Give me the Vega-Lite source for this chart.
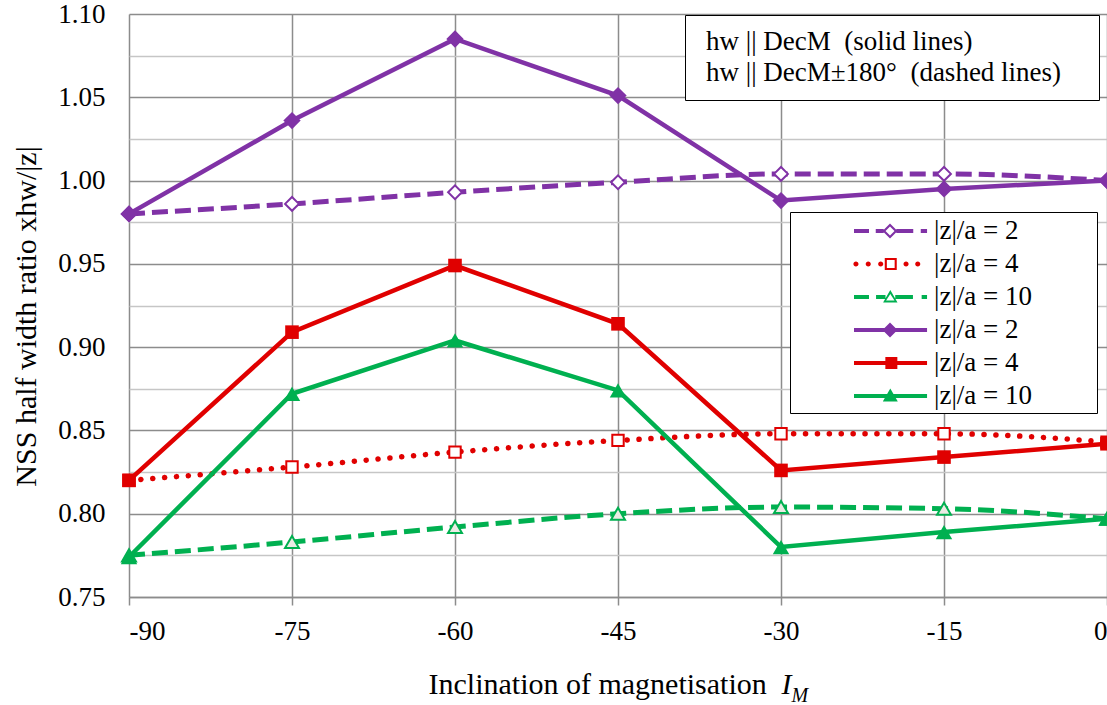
{
  "$schema": "https://vega.github.io/schema/vega-lite/v6.json",
  "width": 978,
  "height": 583,
  "autosize": {"type": "none"},
  "padding": {"left": 129, "top": 14, "right": 0, "bottom": 108},
  "background": "white",
  "config": {
    "view": {"stroke": null},
    "font": "Liberation Serif",
    "axis": {"labelFont": "Liberation Serif", "titleFont": "Liberation Serif", "labelFontSize": 27, "titleFontSize": 30,
      "labelColor": "black", "titleColor": "black", "titleFontWeight": "normal"},
    "legend": {"labelFont": "Liberation Serif", "labelFontSize": 27, "labelColor": "black"}
  },
  "resolve": {"axis": {"x": "independent", "y": "independent"}},
  "data": {"values": [
    {"x": -90, "y": 0.980, "series": "|z|/a = 2 (dashed)"},
    {"x": -75, "y": 0.986, "series": "|z|/a = 2 (dashed)"},
    {"x": -60, "y": 0.993, "series": "|z|/a = 2 (dashed)"},
    {"x": -45, "y": 0.999, "series": "|z|/a = 2 (dashed)"},
    {"x": -30, "y": 1.004, "series": "|z|/a = 2 (dashed)"},
    {"x": -15, "y": 1.004, "series": "|z|/a = 2 (dashed)"},
    {"x": 0, "y": 1.000, "series": "|z|/a = 2 (dashed)"},
    {"x": -90, "y": 0.820, "series": "|z|/a = 4 (dotted)"},
    {"x": -75, "y": 0.828, "series": "|z|/a = 4 (dotted)"},
    {"x": -60, "y": 0.837, "series": "|z|/a = 4 (dotted)"},
    {"x": -45, "y": 0.844, "series": "|z|/a = 4 (dotted)"},
    {"x": -30, "y": 0.848, "series": "|z|/a = 4 (dotted)"},
    {"x": -15, "y": 0.848, "series": "|z|/a = 4 (dotted)"},
    {"x": 0, "y": 0.843, "series": "|z|/a = 4 (dotted)"},
    {"x": -90, "y": 0.775, "series": "|z|/a = 10 (dashed)"},
    {"x": -75, "y": 0.783, "series": "|z|/a = 10 (dashed)"},
    {"x": -60, "y": 0.792, "series": "|z|/a = 10 (dashed)"},
    {"x": -45, "y": 0.800, "series": "|z|/a = 10 (dashed)"},
    {"x": -30, "y": 0.804, "series": "|z|/a = 10 (dashed)"},
    {"x": -15, "y": 0.803, "series": "|z|/a = 10 (dashed)"},
    {"x": 0, "y": 0.797, "series": "|z|/a = 10 (dashed)"},
    {"x": -90, "y": 0.980, "series": "|z|/a = 2 (solid)"},
    {"x": -75, "y": 1.036, "series": "|z|/a = 2 (solid)"},
    {"x": -60, "y": 1.085, "series": "|z|/a = 2 (solid)"},
    {"x": -45, "y": 1.051, "series": "|z|/a = 2 (solid)"},
    {"x": -30, "y": 0.988, "series": "|z|/a = 2 (solid)"},
    {"x": -15, "y": 0.995, "series": "|z|/a = 2 (solid)"},
    {"x": 0, "y": 1.000, "series": "|z|/a = 2 (solid)"},
    {"x": -90, "y": 0.820, "series": "|z|/a = 4 (solid)"},
    {"x": -75, "y": 0.909, "series": "|z|/a = 4 (solid)"},
    {"x": -60, "y": 0.949, "series": "|z|/a = 4 (solid)"},
    {"x": -45, "y": 0.914, "series": "|z|/a = 4 (solid)"},
    {"x": -30, "y": 0.826, "series": "|z|/a = 4 (solid)"},
    {"x": -15, "y": 0.834, "series": "|z|/a = 4 (solid)"},
    {"x": 0, "y": 0.842, "series": "|z|/a = 4 (solid)"},
    {"x": -90, "y": 0.774, "series": "|z|/a = 10 (solid)"},
    {"x": -75, "y": 0.872, "series": "|z|/a = 10 (solid)"},
    {"x": -60, "y": 0.904, "series": "|z|/a = 10 (solid)"},
    {"x": -45, "y": 0.874, "series": "|z|/a = 10 (solid)"},
    {"x": -30, "y": 0.780, "series": "|z|/a = 10 (solid)"},
    {"x": -15, "y": 0.789, "series": "|z|/a = 10 (solid)"},
    {"x": 0, "y": 0.797, "series": "|z|/a = 10 (solid)"}
  ]},
  "encoding": {
    "x": {"field": "x", "type": "quantitative", "scale": {"domain": [-90, 0], "nice": false, "zero": false}, "axis": null},
    "y": {"field": "y", "type": "quantitative", "scale": {"domain": [0.75, 1.10], "nice": false, "zero": false}, "axis": null}
  },
  "layer": [
    {
      "transform": [{"filter": {"field": "series", "equal": "|z|/a = 2 (dashed)"}}],
      "mark": {"type": "line", "interpolate": "monotone", "strokeWidth": 5, "strokeDash": [16, 7], "stroke": "#8032a6"},
      "encoding": {
        "x": {"field": "x", "type": "quantitative", "scale": {"domain": [-90, 0], "nice": false, "zero": false},
          "axis": {"orient": "bottom", "values": [-90, -75, -60, -45, -30, -15, 0], "labelExpr": "'' + datum.value",
            "labelFont": "Liberation Serif", "labelFontSize": 27, "labelColor": "black", "labelPadding": 13,
            "tickSize": 8, "tickColor": "#8c8c8c", "tickWidth": 1.5,
            "domainColor": "#8c8c8c", "domainWidth": 1.5,
            "grid": true, "gridColor": "#8c8c8c", "gridWidth": 1.5,
            "title": "Inclination of magnetisation", "titleFont": "Liberation Serif", "titleFontSize": 30,
            "titleFontWeight": "normal", "titleColor": "black", "titleAnchor": "start", "titleAlign": "left",
            "titleBaseline": "alphabetic", "titleX": 299, "titleY": 96}},
        "y": {"field": "y", "type": "quantitative", "scale": {"domain": [0.75, 1.10], "nice": false, "zero": false},
          "axis": {"orient": "left", "values": [0.75, 0.775, 0.8, 0.825, 0.85, 0.875, 0.9, 0.925, 0.95, 0.975, 1.0, 1.025, 1.05, 1.075, 1.1],
            "labelExpr": "abs(datum.value*20 - round(datum.value*20)) < 0.01 ? format(datum.value, '.2f') : ''",
            "labelFont": "Liberation Serif", "labelFontSize": 27, "labelColor": "black", "labelPadding": 24,
            "ticks": false, "domain": false,
            "grid": true, "gridWidth": 1.5,
            "gridColor": {"condition": {"test": "abs(datum.value*20 - round(datum.value*20)) < 0.01", "value": "#8c8c8c"}, "value": "#c6c6c6"},
            "title": "NSS half width ratio xhw/|z|", "titleFont": "Liberation Serif", "titleFontSize": 30,
            "titleFontWeight": "normal", "titleColor": "black", "titleAngle": -90, "titleAlign": "center",
            "titleBaseline": "middle", "titleX": -103, "titleY": 302}}
      }
    },
    {
      "transform": [{"filter": {"field": "series", "equal": "|z|/a = 2 (dashed)"}}],
      "mark": {"type": "point", "shape": "diamond", "filled": true, "fill": "white", "stroke": "#8032a6", "strokeWidth": 2, "size": 190, "opacity": 1}
    },
    {
      "transform": [{"filter": {"field": "series", "equal": "|z|/a = 4 (dotted)"}}],
      "mark": {"type": "line", "interpolate": "monotone", "strokeWidth": 5.5, "strokeDash": [0.1, 11.8], "strokeCap": "round", "stroke": "#e00000"}
    },
    {
      "transform": [{"filter": {"field": "series", "equal": "|z|/a = 4 (dotted)"}}],
      "mark": {"type": "point", "shape": "square", "filled": true, "fill": "white", "stroke": "#e00000", "strokeWidth": 2, "size": 130, "opacity": 1}
    },
    {
      "transform": [{"filter": {"field": "series", "equal": "|z|/a = 10 (dashed)"}}],
      "mark": {"type": "line", "interpolate": "monotone", "strokeWidth": 5, "strokeDash": [16, 7], "stroke": "#00b050"}
    },
    {
      "transform": [{"filter": {"field": "series", "equal": "|z|/a = 10 (dashed)"}}],
      "mark": {"type": "point", "shape": "triangle-up", "filled": true, "fill": "#ebebe4", "stroke": "#00b050", "strokeWidth": 2, "size": 195, "opacity": 1}
    },
    {
      "transform": [{"filter": {"field": "series", "equal": "|z|/a = 2 (solid)"}}],
      "mark": {"type": "line", "strokeWidth": 4.5, "stroke": "#8032a6"}
    },
    {
      "transform": [{"filter": {"field": "series", "equal": "|z|/a = 2 (solid)"}}],
      "mark": {"type": "point", "shape": "diamond", "filled": true, "fill": "#8032a6", "strokeWidth": 0, "size": 300, "opacity": 1}
    },
    {
      "transform": [{"filter": {"field": "series", "equal": "|z|/a = 4 (solid)"}}],
      "mark": {"type": "line", "strokeWidth": 4.5, "stroke": "#e00000"}
    },
    {
      "transform": [{"filter": {"field": "series", "equal": "|z|/a = 4 (solid)"}}],
      "mark": {"type": "point", "shape": "square", "filled": true, "fill": "#e00000", "strokeWidth": 0, "size": 185, "opacity": 1}
    },
    {
      "transform": [{"filter": {"field": "series", "equal": "|z|/a = 10 (solid)"}}],
      "mark": {"type": "line", "strokeWidth": 4.5, "stroke": "#00b050"}
    },
    {
      "transform": [{"filter": {"field": "series", "equal": "|z|/a = 10 (solid)"}}],
      "mark": {"type": "point", "shape": "triangle-up", "filled": true, "fill": "#00b050", "strokeWidth": 0, "size": 270, "opacity": 1}
    },
    {
      "transform": [{"filter": "false"}],
      "mark": {"type": "point", "filled": true, "opacity": 1, "size": 900, "strokeWidth": 0},
      "encoding": {
        "x": {"field": "x", "type": "quantitative", "scale": {"domain": [-90, 0], "nice": false, "zero": false},
          "axis": {"orient": "top", "labels": false, "ticks": false, "domain": false, "grid": false,
            "title": "I", "titleFont": "Liberation Serif", "titleFontSize": 30, "titleFontStyle": "italic",
            "titleFontWeight": "normal", "titleColor": "black", "titleAnchor": "start", "titleAlign": "left",
            "titleBaseline": "alphabetic", "titleX": 652, "titleY": 679}},
        "y": {"field": "y", "type": "quantitative", "scale": {"domain": [0.75, 1.10], "nice": false, "zero": false},
          "axis": {"orient": "right", "labels": false, "ticks": false, "domain": false, "grid": false,
            "title": "M", "titleFont": "Liberation Serif", "titleFontSize": 20, "titleFontStyle": "italic",
            "titleFontWeight": "normal", "titleColor": "black", "titleAngle": 0, "titleAlign": "left",
            "titleBaseline": "alphabetic", "titleX": -316, "titleY": 687}},
        "color": {"field": "series", "type": "nominal",
          "scale": {"domain": ["|z|/a = 2 (dashed)", "|z|/a = 4 (dotted)", "|z|/a = 10 (dashed)", "|z|/a = 2 (solid)", "|z|/a = 4 (solid)", "|z|/a = 10 (solid)"],
            "range": ["#8032a6", "#e00000", "#00b050", "#8032a6", "#e00000", "#00b050"]},
          "legend": {"orient": "none", "legendX": 661, "legendY": 198, "title": null,
            "padding": 4, "rowPadding": 5, "symbolSize": 900, "symbolStrokeWidth": 0, "symbolOpacity": 1,
            "labelFont": "Liberation Serif", "labelFontSize": 27, "labelColor": "black", "labelOffset": 110, "labelLimit": 400,
            "labelExpr": "split(datum.label, ' (')[0]",
            "strokeColor": "black", "fillColor": "white"}},
        "shape": {"field": "series", "type": "nominal",
          "scale": {"domain": ["|z|/a = 2 (dashed)", "|z|/a = 4 (dotted)", "|z|/a = 10 (dashed)", "|z|/a = 2 (solid)", "|z|/a = 4 (solid)", "|z|/a = 10 (solid)"],
            "range": [
              "M-1,0M18.87,0M3,-0.14H4V0.14H3ZM4.45,-0.14H4.98V0.14H4.45ZM5.82,-0.14H6.95V0.14H5.82ZM7.45,-0.14H7.87V0.14H7.45ZM5.4,-0.5L5.9,0L5.4,0.5L4.9,0ZM5.4,-0.3L5.1,0L5.4,0.3L5.7,0Z",
              "M-1,0M18.87,0M2.96,0A0.17,0.17 0 1,0 3.3,0A0.17,0.17 0 1,0 2.96,0ZM3.78,0A0.17,0.17 0 1,0 4.12,0A0.17,0.17 0 1,0 3.78,0ZM4.61,0A0.17,0.17 0 1,0 4.95,0A0.17,0.17 0 1,0 4.61,0ZM6.3,0A0.17,0.17 0 1,0 6.64,0A0.17,0.17 0 1,0 6.3,0ZM7.08,0A0.17,0.17 0 1,0 7.42,0A0.17,0.17 0 1,0 7.08,0ZM5.05,-0.4H5.85V0.4H5.05ZM5.19,-0.26V0.26H5.71V-0.26Z",
              "M-1,0M18.87,0M3,-0.14H4V0.14H3ZM4.47,-0.14H5.1V0.14H4.47ZM5.75,-0.14H6.93V0.14H5.75ZM7.51,-0.14H7.87V0.14H7.51ZM5.42,-0.47L5.9,0.36L4.94,0.36ZM5.42,-0.2L5.14,0.23L5.7,0.23Z",
              "M-1,0M18.87,0M3,-0.14H7.87V0.14H3ZM5.4,-0.5L5.9,0L5.4,0.5L4.9,0Z",
              "M-1,0M18.87,0M3,-0.14H7.87V0.14H3ZM5.09,-0.4H5.89V0.4H5.09Z",
              "M-1,0M18.87,0M3,-0.14H7.87V0.14H3ZM5.42,-0.5L5.92,0.37L4.92,0.37Z"
            ]},
          "legend": {"orient": "none", "legendX": 661, "legendY": 198, "title": null,
            "padding": 4, "rowPadding": 5, "symbolSize": 900, "symbolStrokeWidth": 0, "symbolOpacity": 1,
            "labelFont": "Liberation Serif", "labelFontSize": 27, "labelColor": "black", "labelOffset": 110, "labelLimit": 400,
            "labelExpr": "split(datum.label, ' (')[0]",
            "strokeColor": "black", "fillColor": "white"}},
        "strokeDash": {"field": "style", "type": "nominal",
          "scale": {"domain": ["hw || DecM\u00a0 (solid lines)", "hw || DecM±180°\u00a0 (dashed lines)"], "range": [[1, 0], [8, 4]]},
          "legend": {"orient": "none", "legendX": 556, "legendY": 1, "title": null,
            "padding": 13.5, "rowPadding": 3, "symbolSize": 4, "symbolType": "M0,0M373,0", "symbolStrokeWidth": 0,
            "labelOffset": -19.5, "labelFont": "Liberation Serif", "labelFontSize": 27, "labelColor": "black", "labelLimit": 500,
            "strokeColor": "black", "fillColor": "white"}}
      }
    }
  ]
}
